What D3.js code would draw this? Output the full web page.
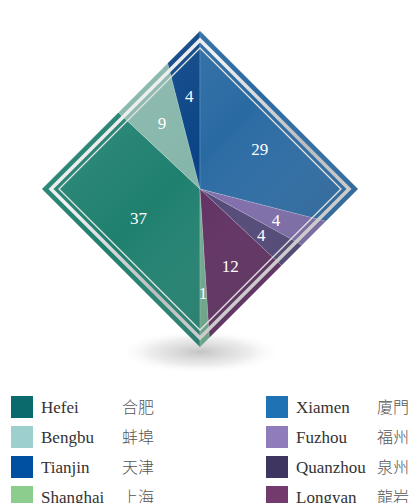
<!DOCTYPE html>
<html>
<head>
<meta charset="utf-8">
<script src="https://cdn.jsdelivr.net/npm/d3@7"></script>
<style>
  html, body { margin: 0; padding: 0; background: #fff; }
  svg { display: block; }
</style>
</head>
<body>
<svg id="chart"></svg>
<script>
// data, legend order
const cities = ["Hefei", "Bengbu", "Tianjin", "Shanghai", "Xiamen", "Fuzhou", "Quanzhou", "Longyan"];
const citiesZh = ["合肥", "蚌埠", "天津", "上海", "廈門", "福州", "泉州", "龍岩"];
const shares = [37, 9, 4, 1, 29, 4, 4, 12];
// order of the slices round the pie, starting at 6 o'clock
const pieOrder = ["Hefei", "Bengbu", "Tianjin", "Xiamen", "Fuzhou", "Quanzhou", "Longyan", "Shanghai"];

const legendColors = ["#0b6b6c", "#9dcfcf", "#0050a1", "#8ccc8c", "#1f72b3", "#8f7dbb", "#3e3560", "#733a6e"];
const pieColors = ["#1f806f", "#86b6aa", "#0a4486", "#6caa8c", "#2a6aa3", "#7d6baa", "#4f4576", "#5e2d60"];

const width = 414, height = 503;
const cx = 200, cy = 189, half = 158;

const svg = d3.select("#chart").attr("width", width).attr("height", height);
const defs = svg.append("defs");

const rows = cities.map((c, i) => ({ city: c, zh: citiesZh[i], value: shares[i], i: i }));

// diamond path for a given half diagonal
function diamond(h) {
  return `M${cx},${cy - h}L${cx + h},${cy}L${cx},${cy + h}L${cx - h},${cy}Z`;
}

// where a ray from the centre at angle a (clockwise from 12 o'clock) meets the diamond
function edgePoint(a, h) {
  const s = Math.sin(a), c = -Math.cos(a);
  const t = h / (Math.abs(s) + Math.abs(c));
  return [cx + s * t, cy + c * t];
}

// clipped slice polygon, used for label centroids
function slicePolygon(d, h) {
  const pts = [[cx, cy], edgePoint(d.startAngle, h)];
  const step = Math.PI / 2;
  let k = Math.floor(d.startAngle / step) + 1;
  while (k * step < d.endAngle) {
    pts.push(edgePoint(k * step, h));
    k++;
  }
  pts.push(edgePoint(d.endAngle, h));
  return pts;
}

// shadow under the bottom tip
const sh = defs.append("radialGradient").attr("id", "shadow");
sh.append("stop").attr("offset", 0).attr("stop-color", "#b9b9b9").attr("stop-opacity", 0.85);
sh.append("stop").attr("offset", 0.6).attr("stop-color", "#d8d8d8").attr("stop-opacity", 0.5);
sh.append("stop").attr("offset", 1).attr("stop-color", "#ffffff").attr("stop-opacity", 0);
svg.append("ellipse")
  .attr("cx", cx).attr("cy", cy + half + 5)
  .attr("rx", 82).attr("ry", 22)
  .attr("fill", "url(#shadow)");

defs.append("clipPath").attr("id", "clip")
  .append("path").attr("d", diamond(half));

const pie = d3.pie()
  .value(d => d.value)
  .sort((a, b) => pieOrder.indexOf(a.city) - pieOrder.indexOf(b.city))
  .startAngle(Math.PI)
  .endAngle(3 * Math.PI);
const arcs = pie(rows).map(d => {
  // normalise angles to 0..2PI for the polygon helper
  const off = d.startAngle >= 2 * Math.PI ? 2 * Math.PI : 0;
  return Object.assign({}, d, { startAngle: d.startAngle - off, endAngle: d.endAngle - off });
});

const arc = d3.arc().innerRadius(0).outerRadius(400);

const g = svg.append("g").attr("clip-path", "url(#clip)");
g.append("g").attr("transform", `translate(${cx},${cy})`)
  .selectAll("path")
  .data(arcs)
  .join("path")
  .attr("d", arc)
  .attr("fill", d => pieColors[d.data.i])
  .attr("stroke", "rgba(255,255,255,0.25)")
  .attr("stroke-width", 0.7);

// light-to-dark shading over the whole diamond
const shade = defs.append("linearGradient").attr("id", "shade")
  .attr("x1", 0).attr("y1", 0).attr("x2", 1).attr("y2", 1);
shade.append("stop").attr("offset", 0).attr("stop-color", "#fff").attr("stop-opacity", 0.14);
shade.append("stop").attr("offset", 0.45).attr("stop-color", "#fff").attr("stop-opacity", 0);
shade.append("stop").attr("offset", 1).attr("stop-color", "#000").attr("stop-opacity", 0.28);
g.append("path").attr("d", diamond(half)).attr("fill", "url(#shade)");

// silver frame
const silver = defs.append("linearGradient").attr("id", "silver")
  .attr("x1", 0).attr("y1", 0).attr("x2", 1).attr("y2", 1);
silver.append("stop").attr("offset", 0).attr("stop-color", "#d6d6d6");
silver.append("stop").attr("offset", 0.3).attr("stop-color", "#f2f2f2");
silver.append("stop").attr("offset", 0.6).attr("stop-color", "#bdbdbd");
silver.append("stop").attr("offset", 1).attr("stop-color", "#e6e6e6");
svg.append("path").attr("d", diamond(half - 9))
  .attr("fill", "none").attr("stroke", "url(#silver)").attr("stroke-width", 3.6);
svg.append("path").attr("d", diamond(half - 17))
  .attr("fill", "none").attr("stroke", "#e4e4e4").attr("stroke-width", 1.3);

// value labels at the centroid of each clipped slice
svg.append("g")
  .selectAll("text")
  .data(arcs)
  .join("text")
  .attr("transform", d => `translate(${d3.polygonCentroid(slicePolygon(d, half))})`)
  .attr("text-anchor", "middle")
  .attr("dy", "0.45em")
  .attr("fill", "#fff")
  .style("font-family", "'Liberation Serif', 'DejaVu Serif', serif")
  .style("font-size", "17px")
  .text(d => d.data.value);

// legend, two columns of four
const col = d3.scaleOrdinal().domain([0, 1]).range([11, 266]);
const row = d3.scaleLinear().domain([0, 3]).range([396, 486]);

const leg = svg.append("g")
  .selectAll("g")
  .data(rows)
  .join("g")
  .attr("transform", d => `translate(${col(Math.floor(d.i / 4))},${row(d.i % 4)})`);

leg.append("rect")
  .attr("width", 22).attr("height", 22)
  .attr("fill", d => legendColors[d.i]);

leg.append("text")
  .attr("x", 30).attr("y", 17)
  .attr("fill", "#333")
  .style("font-family", "'Liberation Serif', 'DejaVu Serif', serif")
  .style("font-size", "17px")
  .text(d => d.city);

leg.append("text")
  .attr("x", 111).attr("y", 17)
  .attr("fill", "#555")
  .style("font-family", "'Noto Sans CJK TC', 'Noto Sans CJK SC', sans-serif")
  .style("font-weight", 300)
  .style("font-size", "16px")
  .text(d => d.zh);
</script>
</body>
</html>
